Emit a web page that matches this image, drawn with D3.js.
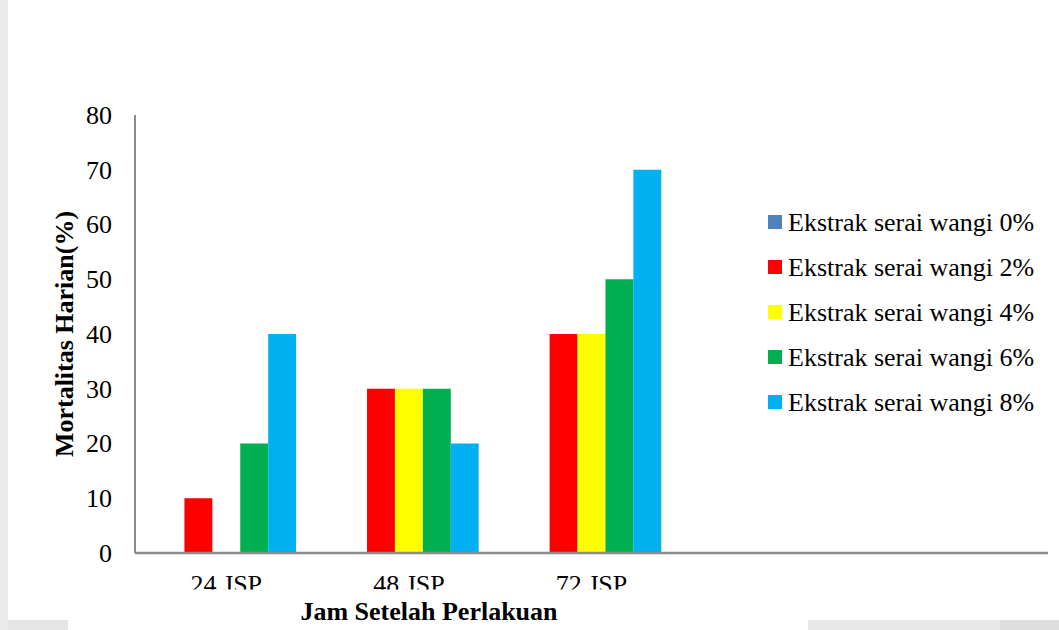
<!DOCTYPE html>
<html>
<head>
<meta charset="utf-8">
<script src="https://cdn.jsdelivr.net/npm/d3@7"></script>
<style>
  html, body { margin: 0; padding: 0; background: #ffffff; }
  svg { display: block; font-family: "Liberation Serif", "Times New Roman", serif; }
</style>
</head>
<body>
<svg id="chart" width="1059" height="630"></svg>
<script>
// Daily mortality (%) per observation time and extract concentration
const categories = ["24 JSP", "48 JSP", "72 JSP"];
const slotCount = 5; // the category axis keeps two empty slots on the right
const seriesNames = [
  "Ekstrak serai wangi 0%",
  "Ekstrak serai wangi 2%",
  "Ekstrak serai wangi 4%",
  "Ekstrak serai wangi 6%",
  "Ekstrak serai wangi 8%"
];
const serai0 = [0, 0, 0];
const serai2 = [10, 30, 40];
const serai4 = [0, 30, 40];
const serai6 = [20, 30, 50];
const serai8 = [40, 20, 70];
const yTicks = [0, 10, 20, 30, 40, 50, 60, 70, 80];
const seriesColors = ["#4F81BD", "#FF0000", "#FFFF00", "#00B050", "#00B0F0"];

const seriesValues = [serai0, serai2, serai4, serai6, serai8];
const FONT = 26;

const svg = d3.select("#chart");

// scanned page edges
svg.append("rect").attr("x", 0).attr("y", 0).attr("width", 8).attr("height", 630).attr("fill", "#ececec");
svg.append("rect").attr("x", 8).attr("y", 620).attr("width", 60).attr("height", 10).attr("fill", "#e6e6e6");
svg.append("rect").attr("x", 808).attr("y", 620).attr("width", 251).attr("height", 10).attr("fill", "#e8e8e8");
svg.append("rect").attr("x", 1000).attr("y", 620).attr("width", 59).attr("height", 10).attr("fill", "#dedede");

const plot = { left: 135, right: 1048, top: 115, bottom: 553 };

const x0 = d3.scaleBand()
  .domain(d3.range(slotCount))
  .range([plot.left, plot.right])
  .paddingInner(0).paddingOuter(0);

const x1 = d3.scaleBand()
  .domain(d3.range(seriesNames.length))
  .range([0, x0.bandwidth()])
  .paddingInner(0).paddingOuter(0.77);

const y = d3.scaleLinear().domain([0, 80]).range([plot.bottom, plot.top]);

// bars
const groups = svg.append("g").selectAll("g")
  .data(categories)
  .join("g")
  .attr("transform", (d, i) => `translate(${x0(i)},0)`);

groups.selectAll("rect")
  .data((d, i) => seriesValues.map((vals, s) => ({ s, v: vals[i] })))
  .join("rect")
  .attr("x", d => x1(d.s))
  .attr("width", x1.bandwidth())
  .attr("y", d => y(d.v))
  .attr("height", d => y(0) - y(d.v))
  .attr("fill", d => seriesColors[d.s]);

// y axis
const yAxis = svg.append("g")
  .attr("transform", `translate(${plot.left},0)`)
  .attr("font-family", "Liberation Serif")
  .attr("font-size", FONT)
  .call(d3.axisLeft(y).tickValues(yTicks).tickSize(0).tickPadding(23));
yAxis.select(".domain").remove();
yAxis.selectAll("text")
  .attr("font-family", "Liberation Serif")
  .attr("font-size", FONT)
  .attr("fill", "#000");

// axis lines
svg.append("line")
  .attr("x1", plot.left).attr("x2", plot.right)
  .attr("y1", y(0)).attr("y2", y(0))
  .attr("stroke", "#8c8c8c").attr("stroke-width", 2.5);
svg.append("line")
  .attr("x1", plot.left).attr("x2", plot.left)
  .attr("y1", plot.top).attr("y2", y(0))
  .attr("stroke", "#8c8c8c").attr("stroke-width", 2);

// category labels, cropped along the bottom as on the printed page
svg.append("clipPath").attr("id", "labelClip")
  .append("rect").attr("x", 0).attr("y", 560).attr("width", 1059).attr("height", 29.5);

svg.append("g").attr("clip-path", "url(#labelClip)")
  .selectAll("text")
  .data(categories)
  .join("text")
  .attr("x", (d, i) => x0(i) + x0.bandwidth() / 2)
  .attr("y", 593)
  .attr("text-anchor", "middle")
  .attr("font-size", FONT)
  .attr("fill", "#000")
  .text(d => d);

// axis titles
svg.append("text")
  .attr("x", 429).attr("y", 620)
  .attr("text-anchor", "middle")
  .attr("font-size", FONT).attr("font-weight", "bold")
  .attr("fill", "#000")
  .text("Jam Setelah Perlakuan");

svg.append("text")
  .attr("transform", "translate(73,334) rotate(-90)")
  .attr("text-anchor", "middle")
  .attr("font-size", FONT).attr("font-weight", "bold")
  .attr("fill", "#000")
  .text("Mortalitas Harian(%)");

// legend
const legend = svg.append("g").selectAll("g")
  .data(seriesNames)
  .join("g")
  .attr("transform", (d, i) => `translate(768,${222 + i * 45})`);

legend.append("rect")
  .attr("x", 0).attr("y", -7)
  .attr("width", 14).attr("height", 14)
  .attr("fill", (d, i) => seriesColors[i]);

legend.append("text")
  .attr("x", 20).attr("y", 9)
  .attr("font-size", FONT)
  .attr("fill", "#000")
  .text(d => d);
</script>
</body>
</html>
